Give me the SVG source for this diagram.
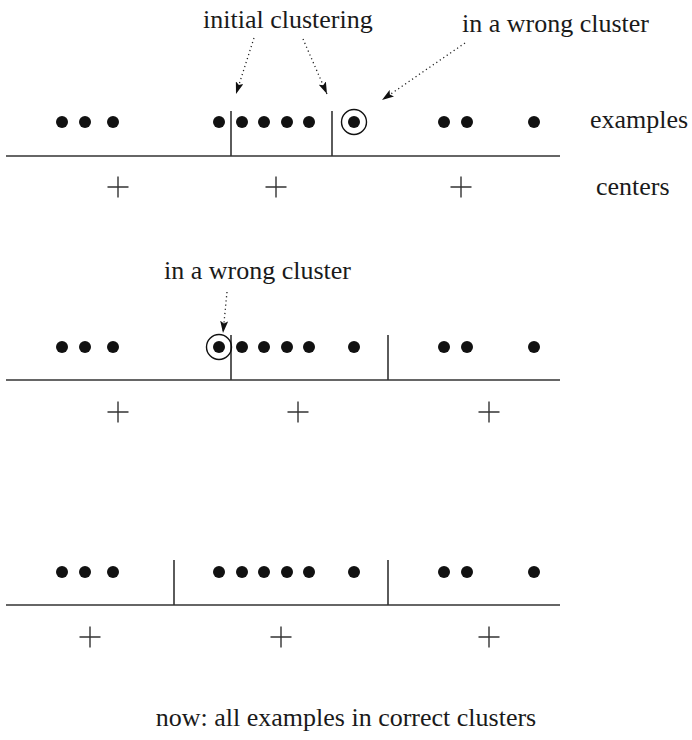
<svg xmlns="http://www.w3.org/2000/svg" width="692" height="740" viewBox="0 0 692 740">
<style>
text{font-family:"Liberation Serif","Times New Roman",serif;font-size:26px;fill:#1a1a1a}
.base{stroke:#333;stroke-width:1.6;fill:none}
.div{stroke:#333;stroke-width:1.6;fill:none}
.dot{fill:#111}
.ring{fill:none;stroke:#111;stroke-width:1.4}
.plus{stroke:#333;stroke-width:1.4;fill:none}
.arr{stroke:#222;stroke-width:1.3;stroke-dasharray:1.2 3;fill:none}
</style>
<defs>
<marker id="ah" viewBox="0 0 12 8" refX="12" refY="4" markerWidth="12" markerHeight="8" markerUnits="userSpaceOnUse" orient="auto">
<path d="M0,0 L12,4 L0,8 L2.5,4 Z" fill="#111"/>
</marker>
<circle id="d" r="6" class="dot"/>
<path id="p" d="M-10.5,0 H10.5 M0,-10.5 V10.5" class="plus"/>
</defs>
<rect width="692" height="740" fill="#fff"/>

<g id="label-initial-clustering"><text x="203" y="28">initial clustering</text></g>
<g id="label-wrong-1"><text x="462" y="32">in a wrong cluster</text></g>
<g id="label-examples"><text x="590" y="128">examples</text></g>
<g id="label-centers"><text x="596" y="195">centers</text></g>

<g id="row1">
<line class="base" x1="6" y1="156" x2="560" y2="156"/>
<line class="div" x1="231" y1="111" x2="231" y2="156"/>
<line class="div" x1="332" y1="111" x2="332" y2="156"/>
<use href="#d" x="62" y="122"/><use href="#d" x="85" y="122"/><use href="#d" x="113" y="122"/>
<use href="#d" x="219" y="122"/><use href="#d" x="242" y="122"/><use href="#d" x="264" y="122"/><use href="#d" x="287" y="122"/><use href="#d" x="309" y="122"/>
<use href="#d" x="354" y="122"/><circle class="ring" cx="354" cy="122" r="12.5"/>
<use href="#d" x="444" y="122"/><use href="#d" x="467" y="122"/><use href="#d" x="534" y="122"/>
<use href="#p" x="118" y="187"/><use href="#p" x="276" y="187"/><use href="#p" x="461" y="187"/>
</g>

<g id="label-wrong-2"><text x="164" y="279">in a wrong cluster</text></g>

<g id="row2">
<line class="base" x1="6" y1="380" x2="560" y2="380"/>
<line class="div" x1="231" y1="335" x2="231" y2="380"/>
<line class="div" x1="388" y1="335" x2="388" y2="380"/>
<use href="#d" x="62" y="347"/><use href="#d" x="85" y="347"/><use href="#d" x="113" y="347"/>
<use href="#d" x="219" y="347"/><circle class="ring" cx="219" cy="347" r="12.5"/>
<use href="#d" x="242" y="347"/><use href="#d" x="264" y="347"/><use href="#d" x="287" y="347"/><use href="#d" x="309" y="347"/>
<use href="#d" x="354" y="347"/>
<use href="#d" x="444" y="347"/><use href="#d" x="467" y="347"/><use href="#d" x="534" y="347"/>
<use href="#p" x="118" y="412"/><use href="#p" x="298" y="412"/><use href="#p" x="489" y="412"/>
</g>

<g id="row3">
<line class="base" x1="6" y1="605" x2="560" y2="605"/>
<line class="div" x1="174" y1="560" x2="174" y2="605"/>
<line class="div" x1="388" y1="560" x2="388" y2="605"/>
<use href="#d" x="62" y="572"/><use href="#d" x="85" y="572"/><use href="#d" x="113" y="572"/>
<use href="#d" x="219" y="572"/><use href="#d" x="242" y="572"/><use href="#d" x="264" y="572"/><use href="#d" x="287" y="572"/><use href="#d" x="309" y="572"/>
<use href="#d" x="354" y="572"/>
<use href="#d" x="444" y="572"/><use href="#d" x="467" y="572"/><use href="#d" x="534" y="572"/>
<use href="#p" x="90" y="637"/><use href="#p" x="281" y="637"/><use href="#p" x="489" y="637"/>
</g>

<g id="label-final"><text x="346" y="726" text-anchor="middle">now: all examples in correct clusters</text></g>

<g id="connectors">
<line class="arr" x1="254" y1="38" x2="236" y2="94" marker-end="url(#ah)"/>
<line class="arr" x1="303" y1="39" x2="327" y2="94" marker-end="url(#ah)"/>
<line class="arr" x1="465" y1="43" x2="382" y2="100" marker-end="url(#ah)"/>
<line class="arr" x1="227" y1="292" x2="223" y2="333" marker-end="url(#ah)"/>
</g>
</svg>
